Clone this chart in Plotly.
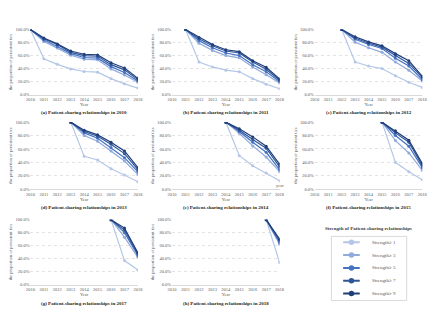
import plotly.graph_objects as go

years = list(range(2010, 2019))
strength_labels = ["Strength≥ 1", "Strength≥ 3", "Strength≥ 5", "Strength≥ 7", "Strength≥ 9"]
colors = ["#b4c7e7", "#8faadc", "#4472c4", "#2f5597", "#203f7a"]
tick_vals = [0, 0.2, 0.4, 0.6, 0.8, 1.0]

panel_titles = [
    "(a) Patient-sharing relationships in 2010",
    "(b) Patient-sharing relationships in 2011",
    "(c) Patient-sharing relationships in 2012",
    "(d) Patient-sharing relationships in 2013",
    "(e) Patient-sharing relationships in 2014",
    "(f) Patient-sharing relationships in 2015",
    "(g) Patient-sharing relationships in 2017",
    "(h) Patient-sharing relationships in 2018",
]
panel_start = [2010, 2011, 2012, 2013, 2014, 2015, 2016, 2017]

# rows: strength 1, 3, 5, 7, 9 (proportions, %)
panel_a = [
    [100, 55, 46.5, 39.5, 35.5, 34.5, 24.5, 16.5, 10],
    [100, 81.5, 71.5, 60.5, 54.5, 53.5, 39.5, 30, 19],
    [100, 84, 74, 63, 57, 56, 43, 34, 21],
    [100, 86, 77, 65, 60, 59, 46, 38, 23],
    [100, 87, 78, 67, 62, 61, 49, 41, 25],
]
panel_b = [
    [100, 50, 42.5, 37.5, 35, 24.5, 16, 9],
    [100, 79, 68, 60, 56.5, 42.5, 30.5, 18],
    [100, 83, 72, 64, 60, 46, 35, 20],
    [100, 86, 75, 67, 64, 50, 39, 22],
    [100, 88, 77, 69, 66, 52, 42, 24],
]
panel_c = [
    [100, 50, 44, 40, 29, 19, 11],
    [100, 80.5, 72, 65, 50, 37.5, 21],
    [100, 85, 77, 71, 56, 44, 23],
    [100, 87, 79, 73, 60, 48, 26],
    [100, 89, 81, 75, 63, 52, 28],
]
panel_d = [
    [100, 49, 43.5, 30.5, 21, 11],
    [100, 80, 71.5, 57, 42, 22],
    [100, 84, 76, 62, 47, 26],
    [100, 86, 79, 67, 53, 29],
    [100, 88, 81, 70, 57, 32],
]
panel_e = [
    [100, 50, 35, 24, 12.5],
    [100, 83.5, 64.5, 48, 26],
    [100, 86, 70, 55, 29],
    [100, 88, 74, 61, 33],
    [100, 90, 78, 64, 37],
]
panel_f = [
    [100, 40, 26, 14],
    [100, 72.5, 54, 28],
    [100, 80, 64, 32],
    [100, 84, 70, 35],
    [100, 87, 73, 38],
]
panel_g = [
    [100, 37, 22.5],
    [100, 73, 42],
    [100, 80, 45],
    [100, 84, 47],
    [100, 87, 49],
]
panel_h = [
    [100, 34],
    [100, 62],
    [100, 65],
    [100, 68],
    [100, 70],
]
panels = [panel_a, panel_b, panel_c, panel_d, panel_e, panel_f, panel_g, panel_h]

W, H = 440, 330
col_px = [(26, 136), (171, 281), (317, 427)]
row_px = [(28, 94), (122, 190), (221, 287)]
title_py = [112, 209, 306]

FONT = "Liberation Serif"
fig = go.Figure()
layout = {}
annotations = []
shapes = []

for i, (panel, start) in enumerate(zip(panels, panel_start)):
    r, c = divmod(i, 3)
    n = "" if i == 0 else str(i + 1)
    xa, ya = "x" + n, "y" + n
    x_years = [y for y in years if y >= start]
    for k, series in enumerate(panel):
        fig.add_trace(go.Scatter(
            x=x_years, y=[v / 100 for v in series], xaxis=xa, yaxis=ya,
            mode="lines+markers", name=strength_labels[k],
            line=dict(color=colors[k], width=1.2),
            marker=dict(color=colors[k], size=3, symbol="circle"),
            showlegend=False,
        ))
    x0, x1 = col_px[c]
    y0, y1 = row_px[r]
    layout["xaxis" + n] = dict(
        domain=[x0 / W, x1 / W], anchor=ya, range=[2010, 2018],
        tickvals=years, ticktext=[str(y) for y in years],
        tickfont=dict(family=FONT, size=4.5, color="#595959"),
        title=dict(text="Year", font=dict(family=FONT, size=4.5, color="#595959"), standoff=1),
        showgrid=False, zeroline=False, showline=True, linecolor="#d9d9d9", linewidth=1,
        ticks="", ticklen=0,
    )
    layout["yaxis" + n] = dict(
        domain=[1 - y1 / H, 1 - y0 / H], anchor=xa, range=[0, 1.0],
        tickvals=tick_vals, tickformat=".1%",
        tickfont=dict(family=FONT, size=4.5, color="#595959"),
        title=dict(text="the proportion of persistent ties",
                   font=dict(family=FONT, size=4.5, color="#595959"), standoff=2),
        showgrid=True, gridcolor="#e3e3e3", gridwidth=1, griddash="dot",
        zeroline=False, showline=False, ticks="",
    )
    annotations.append(dict(
        text="<b>" + panel_titles[i] + "</b>", x=(x0 + x1) / 2 / W, y=1 - title_py[r] / H,
        xref="paper", yref="paper", showarrow=False, xanchor="center", yanchor="middle",
        font=dict(family=FONT, size=5, color="#262626"),
    ))

# ---- custom legend panel (hidden axes x9/y9) ----
LX0, LX1, LY0, LY1 = 334, 411, 238, 303
layout["xaxis9"] = dict(domain=[LX0 / W, LX1 / W], anchor="y9", range=[0, LX1 - LX0],
                        visible=False, fixedrange=True)
layout["yaxis9"] = dict(domain=[1 - LY1 / H, 1 - LY0 / H], anchor="x9",
                        range=[4.54, -0.46], visible=False, fixedrange=True)
for k, lab in enumerate(strength_labels):
    fig.add_trace(go.Scatter(
        x=[12, 29], y=[k, k], xaxis="x9", yaxis="y9", mode="lines",
        line=dict(color=colors[k], width=2), showlegend=False, hoverinfo="skip",
    ))
    fig.add_trace(go.Scatter(
        x=[20.5], y=[k], xaxis="x9", yaxis="y9", mode="markers",
        marker=dict(color=colors[k], size=5.5), showlegend=False, hoverinfo="skip",
    ))
    annotations.append(dict(
        text=lab, x=39, y=k, xref="x9", yref="y9", showarrow=False,
        xanchor="left", yanchor="middle", font=dict(family=FONT, size=5, color="#595959"),
    ))
shapes.append(dict(type="rect", xref="paper", yref="paper",
                   x0=LX0 / W, x1=LX1 / W, y0=1 - LY1 / H, y1=1 - LY0 / H,
                   line=dict(color="#d9d9d9", width=1), fillcolor="rgba(0,0,0,0)"))

annotations.append(dict(
    text="year", x=2018, y=0.06, xref="x5", yref="y5", showarrow=False,
    xanchor="center", yanchor="middle", font=dict(family=FONT, size=4.5, color="#595959"),
))
annotations.append(dict(
    text="<b>Strength of Patient-sharing relationships</b>", x=372 / W, y=1 - 230 / H,
    xref="paper", yref="paper", showarrow=False, xanchor="center", yanchor="middle",
    font=dict(family=FONT, size=5, color="#404040"),
))

fig.update_layout(
    width=W, height=H, margin=dict(l=0, r=0, t=0, b=0),
    paper_bgcolor="white", plot_bgcolor="white",
    showlegend=False,
    annotations=annotations,
    shapes=shapes,
    **layout,
)

fig.write_html("out.html")
